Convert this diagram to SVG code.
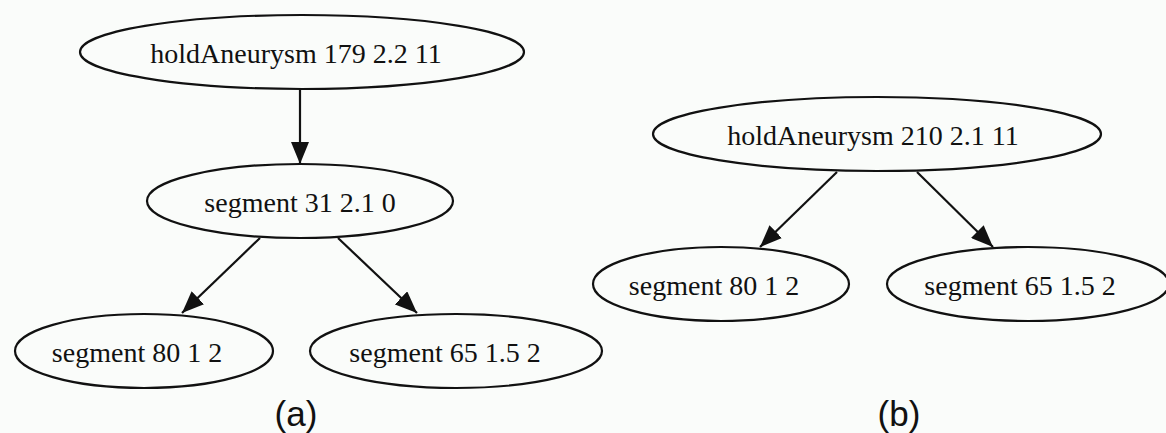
<svg xmlns="http://www.w3.org/2000/svg" width="1166" height="433" viewBox="0 0 1166 433">
<style>
.n ellipse{fill:none;stroke:#111;stroke-width:2.2}
.n text{font-family:"Liberation Serif","Times New Roman",serif;font-size:28px;fill:#111;text-anchor:middle}
.e line{stroke:#111;stroke-width:2.2;marker-end:url(#ah)}
.lbl{font-family:"Liberation Sans",Arial,sans-serif;font-size:35px;fill:#111;text-anchor:middle}
</style>
<defs>
<marker id="ah" viewBox="0 0 22 18" refX="22" refY="9" markerWidth="22" markerHeight="18" markerUnits="userSpaceOnUse" orient="auto">
<path d="M0,0 L22,9 L0,18 z" fill="#111"/>
</marker>
</defs>
<rect width="1166" height="433" fill="#fafcfa"/>
<g id="edges" class="e">
<line x1="300" y1="89" x2="300" y2="164"/>
<line x1="260" y1="238" x2="182" y2="313"/>
<line x1="338" y1="238" x2="417" y2="313"/>
<line x1="837" y1="172" x2="760" y2="247"/>
<line x1="917" y1="172" x2="993" y2="247"/>
</g>
<g id="a_hold" class="n"><ellipse cx="302" cy="52" rx="222" ry="37"/><text x="296" y="63">holdAneurysm 179 2.2 11</text></g>
<g id="a_seg31" class="n"><ellipse cx="300" cy="201" rx="153" ry="37"/><text x="300" y="212">segment 31 2.1 0</text></g>
<g id="a_seg80" class="n"><ellipse cx="144" cy="351" rx="129" ry="37"/><text x="137" y="362">segment 80 1 2</text></g>
<g id="a_seg65" class="n"><ellipse cx="456" cy="351" rx="146" ry="37"/><text x="445" y="362">segment 65 1.5 2</text></g>
<g id="b_hold" class="n"><ellipse cx="877" cy="134" rx="224" ry="37"/><text x="873" y="145">holdAneurysm 210 2.1 11</text></g>
<g id="b_seg80" class="n"><ellipse cx="721" cy="284" rx="128" ry="37"/><text x="714" y="295">segment 80 1 2</text></g>
<g id="b_seg65" class="n"><ellipse cx="1028" cy="284" rx="141" ry="37"/><text x="1020" y="295">segment 65 1.5 2</text></g>
<text class="lbl" x="296" y="426">(a)</text>
<text class="lbl" x="899" y="426">(b)</text>
</svg>
